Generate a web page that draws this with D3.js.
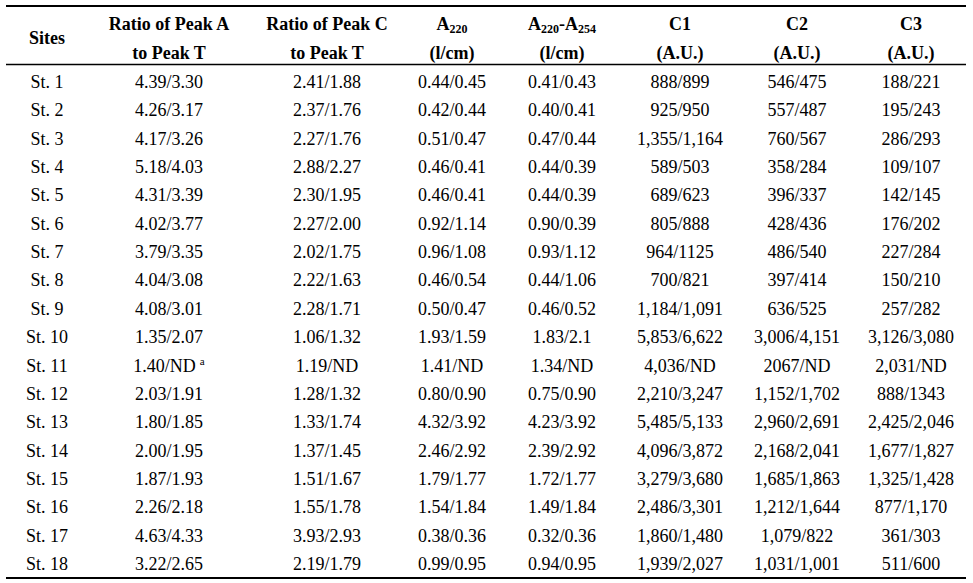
<!DOCTYPE html>
<html><head><meta charset="utf-8">
<script src="https://cdn.jsdelivr.net/npm/d3@7"></script>
<style>html,body{margin:0;padding:0;background:#fff;}svg{display:block;}</style>
</head><body>
<script>
const sites = ["St. 1","St. 2","St. 3","St. 4","St. 5","St. 6","St. 7","St. 8","St. 9","St. 10","St. 11","St. 12","St. 13","St. 14","St. 15","St. 16","St. 17","St. 18"];
const ratioAT = ["4.39/3.30","4.26/3.17","4.17/3.26","5.18/4.03","4.31/3.39","4.02/3.77","3.79/3.35","4.04/3.08","4.08/3.01","1.35/2.07","1.40/ND","2.03/1.91","1.80/1.85","2.00/1.95","1.87/1.93","2.26/2.18","4.63/4.33","3.22/2.65"];
const ratioCT = ["2.41/1.88","2.37/1.76","2.27/1.76","2.88/2.27","2.30/1.95","2.27/2.00","2.02/1.75","2.22/1.63","2.28/1.71","1.06/1.32","1.19/ND","1.28/1.32","1.33/1.74","1.37/1.45","1.51/1.67","1.55/1.78","3.93/2.93","2.19/1.79"];
const a220 = ["0.44/0.45","0.42/0.44","0.51/0.47","0.46/0.41","0.46/0.41","0.92/1.14","0.96/1.08","0.46/0.54","0.50/0.47","1.93/1.59","1.41/ND","0.80/0.90","4.32/3.92","2.46/2.92","1.79/1.77","1.54/1.84","0.38/0.36","0.99/0.95"];
const a220a254 = ["0.41/0.43","0.40/0.41","0.47/0.44","0.44/0.39","0.44/0.39","0.90/0.39","0.93/1.12","0.44/1.06","0.46/0.52","1.83/2.1","1.34/ND","0.75/0.90","4.23/3.92","2.39/2.92","1.72/1.77","1.49/1.84","0.32/0.36","0.94/0.95"];
const c1 = ["888/899","925/950","1,355/1,164","589/503","689/623","805/888","964/1125","700/821","1,184/1,091","5,853/6,622","4,036/ND","2,210/3,247","5,485/5,133","4,096/3,872","3,279/3,680","2,486/3,301","1,860/1,480","1,939/2,027"];
const c2 = ["546/475","557/487","760/567","358/284","396/337","428/436","486/540","397/414","636/525","3,006/4,151","2067/ND","1,152/1,702","2,960/2,691","2,168/2,041","1,685/1,863","1,212/1,644","1,079/822","1,031/1,001"];
const c3 = ["188/221","195/243","286/293","109/107","142/145","176/202","227/284","150/210","257/282","3,126/3,080","2,031/ND","888/1343","2,425/2,046","1,677/1,827","1,325/1,428","877/1,170","361/303","511/600"];
const footnoteMark = {row: "St. 11", col: "ratioAT", mark: "a"};

const headers = [
  {key:"sites", l1:null, l2:null, single:"Sites"},
  {key:"ratioAT", l1:[["Ratio of Peak A",false]], l2:[["to Peak T",false]]},
  {key:"ratioCT", l1:[["Ratio of Peak C",false]], l2:[["to Peak T",false]]},
  {key:"a220", l1:[["A",false],["220",true]], l2:[["(l/cm)",false]]},
  {key:"a220a254", l1:[["A",false],["220",true],["-A",false],["254",true]], l2:[["(l/cm)",false]]},
  {key:"c1", l1:[["C1",false]], l2:[["(A.U.)",false]]},
  {key:"c2", l1:[["C2",false]], l2:[["(A.U.)",false]]},
  {key:"c3", l1:[["C3",false]], l2:[["(A.U.)",false]]}
];
const columns = {sites, ratioAT, ratioCT, a220, a220a254, c1, c2, c3};
const colKeys = headers.map(h=>h.key);
const colCenters = [47,169,327,452,562,680,797,911];

const W = 973, H = 583;
const svg = d3.select("body").append("svg").attr("width",W).attr("height",H);
const font = "'Liberation Serif','Times New Roman',serif";

const x = d3.scaleOrdinal().domain(colKeys).range(colCenters);
const y = d3.scalePoint().domain(sites).range([82,564]);

// rules
svg.append("line").attr("x1",6).attr("x2",966).attr("y1",6).attr("y2",6).attr("stroke","#000").attr("stroke-width",2);
svg.append("line").attr("x1",6).attr("x2",966).attr("y1",64.5).attr("y2",64.5).attr("stroke","#000").attr("stroke-width",1.5);
svg.append("line").attr("x1",6).attr("x2",966).attr("y1",578).attr("y2",578).attr("stroke","#000").attr("stroke-width",2);

// headers
const hg = svg.append("g").attr("font-family",font).attr("font-weight","bold").attr("font-size",18).attr("fill","#000");
headers.forEach(h=>{
  if(h.single){
    hg.append("text").attr("x",x(h.key)).attr("y",44).attr("text-anchor","middle").text(h.single);
    return;
  }
  [[h.l1,30],[h.l2,59]].forEach(([parts,yy])=>{
    const t = hg.append("text").attr("x",x(h.key)).attr("y",yy).attr("text-anchor","middle");
    let shifted=false;
    parts.forEach(([s,sub])=>{
      const ts = t.append("tspan").text(s);
      if(sub){ ts.attr("font-size",12).attr("dy",shifted?0:3); shifted=true; }
      else if(shifted){ ts.attr("dy",-3); shifted=false; }
    });
  });
});

// body
const bg = svg.append("g").attr("font-family",font).attr("font-size",18).attr("fill","#000");
colKeys.forEach(k=>{
  bg.selectAll(null).data(columns[k].map((v,i)=>({v,site:sites[i]}))).join("text")
    .attr("x",x(k)).attr("y",d=>y(d.site)+6).attr("text-anchor","middle")
    .each(function(d){
      const t=d3.select(this);
      t.append("tspan").text(d.v);
      if(d.site===footnoteMark.row && k===footnoteMark.col){
        t.append("tspan").attr("font-size",11).attr("dx",4).attr("dy",-7).text(footnoteMark.mark);
      }
    });
});
</script>
</body></html>
